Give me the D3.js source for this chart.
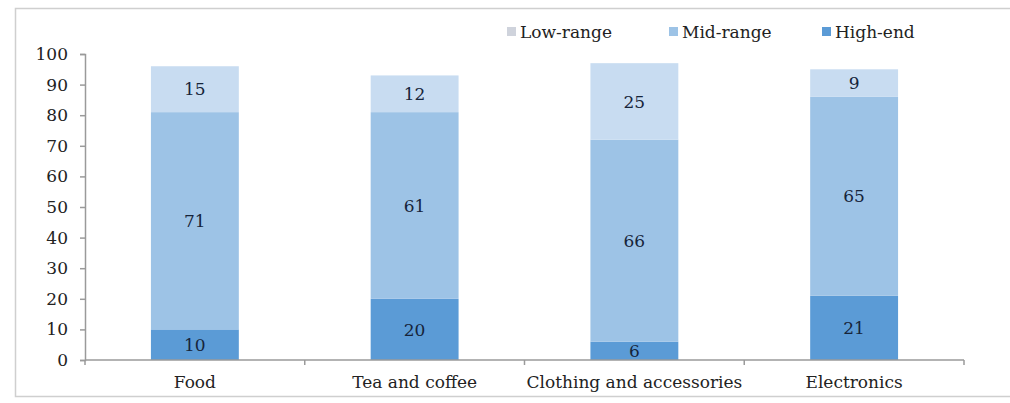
<!DOCTYPE html>
<html>
<head>
<meta charset="utf-8">
<script src="https://cdn.jsdelivr.net/npm/d3@7"></script>
<style>
  body { margin: 0; background: #fff; }
  svg { display: block; font-family: "DejaVu Serif", serif; }
</style>
</head>
<body>
<svg id="chart" width="1010" height="403"></svg>
<script>
// ---- data ----
const categories = ["Food", "Tea and coffee", "Clothing and accessories", "Electronics"]
const highEnd  = [10, 20, 6, 21]
const midRange = [71, 61, 66, 65]
const lowRange = [15, 12, 25, 9]
const yTicks   = [0, 10, 20, 30, 40, 50, 60, 70, 80, 90, 100]

const seriesNames  = ["High-end", "Mid-range", "Low-range"]
const seriesColors = ["#5b9bd6", "#9dc3e6", "#c8dcf1"]
const legendOrder  = ["Low-range", "Mid-range", "High-end"]
const legendSwatch = { "Low-range": "#cfd3dc", "Mid-range": "#9dc3e6", "High-end": "#5b9bd6" }

const margin = { top: 54, right: 46, bottom: 43, left: 85 }
const W = 1010, H = 403
const width = W - margin.left - margin.right
const height = H - margin.top - margin.bottom
const fs = "17px"

const svg = d3.select("#chart")

// outer frame
svg.append("rect")
    .attr("x", 15.5).attr("y", 8.5)
    .attr("width", 1010).attr("height", 388)
    .attr("fill", "none")
    .attr("stroke", "#cfcfcf")
    .attr("stroke-width", 1.5)

const g = svg.append("g").attr("transform", `translate(${margin.left},${margin.top})`)

const x = d3.scaleBand()
    .domain(categories)
    .range([0, width])
    .paddingInner(0.6)
    .paddingOuter(0.3)

const y = d3.scaleLinear().domain([0, 100]).range([height, 0])

// stack
const rows = categories.map((c, i) => ({
    cat: c, "High-end": highEnd[i], "Mid-range": midRange[i], "Low-range": lowRange[i]
}))
const stacked = d3.stack().keys(seriesNames)(rows)

const layers = g.selectAll("g.layer")
    .data(stacked)
    .enter()
    .append("g")
        .attr("class", "layer")
        .attr("fill", (d, i) => seriesColors[i])

layers.selectAll("rect")
    .data(d => d)
    .enter()
    .append("rect")
        .attr("x", d => x(d.data.cat))
        .attr("y", d => y(d[1]))
        .attr("width", x.bandwidth())
        .attr("height", d => y(d[0]) - y(d[1]))

// value labels
layers.selectAll("text")
    .data(d => d)
    .enter()
    .append("text")
        .attr("x", d => x(d.data.cat) + x.bandwidth() / 2)
        .attr("y", d => (y(d[0]) + y(d[1])) / 2)
        .attr("dy", "0.36em")
        .attr("text-anchor", "middle")
        .attr("font-size", fs)
        .attr("fill", "#16243a")
        .text(d => d[1] - d[0])

// y axis
const yAxis = g.append("g")
    .call(d3.axisLeft(y).tickValues(yTicks).tickSize(5).tickPadding(12))
yAxis.select(".domain").attr("stroke", "#9a9a9a").attr("stroke-width", 1.5)
yAxis.selectAll(".tick line").attr("stroke", "#9a9a9a").attr("stroke-width", 1.5)
yAxis.selectAll(".tick text")
    .attr("font-size", fs)
    .attr("font-family", "DejaVu Serif, serif")
    .attr("fill", "#222")

// x axis: ticks at category boundaries
const bounds = [0].concat(categories.map(c => x(c) + x.bandwidth() / 2 + x.step() / 2))
const xg = g.append("g").attr("transform", `translate(0,${height})`)
xg.append("line")
    .attr("x1", 0).attr("x2", width)
    .attr("stroke", "#9a9a9a").attr("stroke-width", 1.5)
xg.selectAll("line.tk")
    .data(bounds)
    .enter()
    .append("line")
        .attr("class", "tk")
        .attr("x1", d => d).attr("x2", d => d)
        .attr("y1", 0).attr("y2", 5)
        .attr("stroke", "#9a9a9a").attr("stroke-width", 1.5)
xg.selectAll("text")
    .data(categories)
    .enter()
    .append("text")
        .attr("x", d => x(d) + x.bandwidth() / 2)
        .attr("y", 28)
        .attr("text-anchor", "middle")
        .attr("font-size", fs)
        .attr("fill", "#222")
        .text(d => d)

// legend
const legendX = [507, 669, 822]
const legend = svg.append("g")
legendOrder.forEach((name, i) => {
    legend.append("rect")
        .attr("x", legendX[i]).attr("y", 27)
        .attr("width", 9).attr("height", 9)
        .attr("fill", legendSwatch[name])
    legend.append("text")
        .attr("x", legendX[i] + 13).attr("y", 32)
        .attr("dy", "0.36em")
        .attr("font-size", fs)
        .attr("fill", "#222")
        .text(name)
})
</script>
</body>
</html>
